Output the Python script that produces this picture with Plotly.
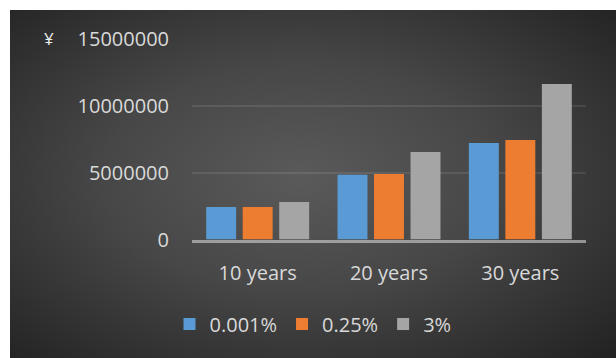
import base64
import plotly.graph_objects as go

categories = ["10 years", "20 years", "30 years"]
series_names = ["0.001%", "0.25%", "3%"]
rate_0001 = [2440000, 4850000, 7230000]
rate_025 = [2440000, 4910000, 7460000]
rate_3 = [2810000, 6560000, 11660000]
y_ticks = [0, 5000000, 10000000, 15000000]
colors = ["#5B9BD5", "#ED7D31", "#A5A5A5"]

W, H = 616, 358
TXT = "#D9D9D9"
FONT = "Open Sans"

svg = (
    "<svg xmlns='http://www.w3.org/2000/svg' width='606' height='348' viewBox='0 0 606 348' "
    "preserveAspectRatio='none'><defs><radialGradient id='g' cx='0.48' cy='0.48' r='0.72'>"
    "<stop offset='0' stop-color='#5a5a5a'/><stop offset='0.45' stop-color='#474747'/>"
    "<stop offset='1' stop-color='#232323'/></radialGradient></defs>"
    "<rect width='606' height='348' fill='url(#g)'/></svg>"
)
bg_uri = "data:image/svg+xml;base64," + base64.b64encode(svg.encode()).decode()

fig = go.Figure()
for name, vals, col in zip(series_names, [rate_0001, rate_025, rate_3], colors):
    fig.add_trace(go.Bar(x=categories, y=vals, name=name, marker=dict(color=col, line=dict(width=0))))

fig.update_layout(
    template="none",
    width=W, height=H,
    autosize=False,
    margin=dict(l=0, r=0, t=0, b=0, pad=0, autoexpand=False),
    paper_bgcolor="white",
    plot_bgcolor="rgba(0,0,0,0)",
    barmode="group",
    bargap=0.166,
    bargroupgap=0.18,
    font=dict(family=FONT, size=20, color=TXT),
    images=[dict(source=bg_uri, xref="paper", yref="paper", x=10 / W, y=1 - 10 / H,
                 sizex=606 / W, sizey=348 / H, xanchor="left", yanchor="top",
                 sizing="stretch", layer="below")],
    xaxis=dict(domain=[192 / W, 586 / W], automargin=False, showgrid=False, showline=True,
               linecolor="rgba(225,225,225,0.55)", linewidth=2.5, ticks="",
               ticklabelstandoff=14, tickfont=dict(family=FONT, size=20, color=TXT)),
    yaxis=dict(domain=[1 - 239.5 / H, 1 - 39.3 / H], range=[0, 15000000], automargin=False,
               tickvals=y_ticks, tickformat="d", showgrid=True,
               gridcolor="rgba(255,255,255,0.09)", gridwidth=2, zeroline=False,
               showline=False, ticks="", ticklabelstandoff=22,
               tickfont=dict(family=FONT, size=20, color=TXT)),
    legend=dict(orientation="h", x=313 / W, xanchor="center", y=1 - 324 / H,
                yanchor="middle", font=dict(family=FONT, size=20, color=TXT),
                bgcolor="rgba(0,0,0,0)", borderwidth=0, itemclick=False),
    annotations=[dict(text="¥", xref="paper", yref="paper", x=49 / W, y=1 - 38 / H,
                      showarrow=False, xanchor="center", yanchor="middle",
                      font=dict(family=FONT, size=17, color="#F2F2F2"))],
)

fig.write_html("out.html")
